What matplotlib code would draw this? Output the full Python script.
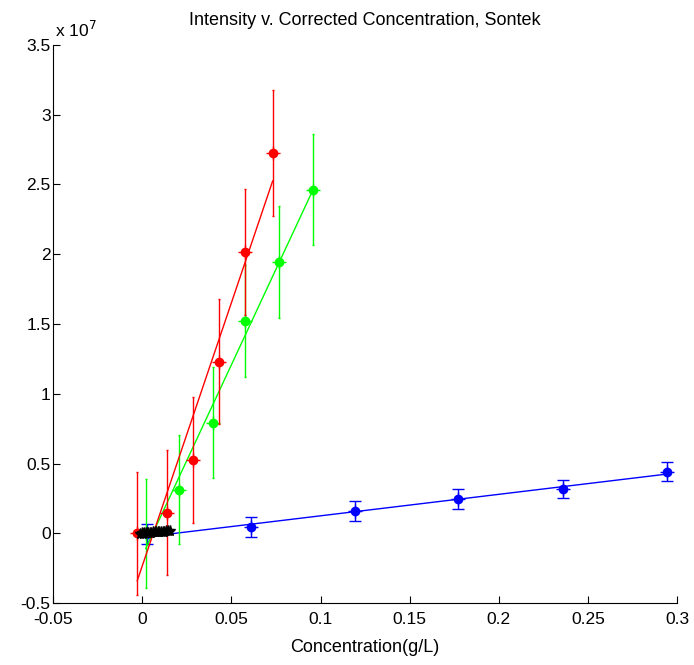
import numpy as np
import matplotlib
matplotlib.use('Agg')
import matplotlib.pyplot as plt

plt.rcParams['font.family'] = ['Liberation Sans', 'DejaVu Sans']
plt.rcParams['axes.unicode_minus'] = False

# intensity values in units of 1e7
red_x = [-0.0029, 0.0137, 0.0282, 0.0432, 0.0577, 0.0731]
red_y = [0.0, 0.150, 0.527, 1.231, 2.016, 2.723]
red_err = [0.44, 0.45, 0.45, 0.45, 0.45, 0.45]

green_x = [0.0019, 0.0207, 0.0394, 0.0577, 0.0768, 0.0956]
green_y = [0.0, 0.314, 0.794, 1.522, 1.945, 2.463]
green_err = [0.39, 0.39, 0.40, 0.40, 0.40, 0.40]

blue_x = [0.0024, 0.0608, 0.1193, 0.1773, 0.2359, 0.2946]
blue_y = [-0.005, 0.044, 0.161, 0.245, 0.317, 0.443]
blue_err = [0.07, 0.072, 0.07, 0.07, 0.065, 0.07]

black_x = [-0.0012, -0.0004, 0.0003, 0.0011, 0.0019, 0.0026, 0.0034, 0.0043, 0.0051, 0.0060,
           0.0068, 0.0077, 0.0086, 0.0095, 0.0104, 0.0114, 0.0124, 0.0134, 0.0145, 0.0156]
black_y = [-0.004, 0.000, -0.002, 0.003, 0.001, 0.004, 0.002, 0.006, 0.005, 0.008,
           0.007, 0.010, 0.009, 0.012, 0.011, 0.014, 0.013, 0.016, 0.015, 0.018]
black_err = [0.025] * len(black_x)

series = [
    (blue_x, blue_y, blue_err, '#0000ff', 4),
    (green_x, green_y, green_err, '#00ff00', 1),
    (red_x, red_y, red_err, '#ff0000', 1),
]

fig = plt.figure(figsize=(6.94, 6.65), dpi=100)
ax = fig.add_axes([0.0768, 0.0928, 0.8987, 0.8400])

for x, y, e, c, cap in series:
    ax.errorbar(x, y, yerr=e, fmt='none', ecolor=c, elinewidth=1.0, capsize=cap, capthick=1.0)
    p = np.polyfit(x, y, 1)
    xx = np.array([min(x), max(x)])
    ax.plot(xx, np.polyval(p, xx), color=c, linewidth=1.0)
    ax.plot(x, y, 'o', color=c, markersize=6)
    ax.plot(x, y, '+', color=c, markersize=10, markeredgewidth=1)

# black cluster near origin
ax.errorbar(black_x, black_y, yerr=black_err, fmt='none', ecolor='k', elinewidth=0.8, capsize=0)
p = np.polyfit(black_x, black_y, 1)
xx = np.array([min(black_x), max(black_x)])
ax.plot(xx, np.polyval(p, xx), color='k', linewidth=0.9)
ax.plot(black_x, black_y, '*', color='k', markersize=8)

ax.set_xlim(-0.05, 0.3)
ax.set_ylim(-0.5, 3.5)
ax.set_xticks(np.arange(-0.05, 0.31, 0.05))
ax.set_xticklabels(['-0.05', '0', '0.05', '0.1', '0.15', '0.2', '0.25', '0.3'])
ax.set_yticks(np.arange(-0.5, 3.51, 0.5))
ax.set_yticklabels(['-0.5', '0', '0.5', '1', '1.5', '2', '2.5', '3', '3.5'])
ax.spines['top'].set_visible(False)
ax.spines['right'].set_visible(False)
ax.tick_params(direction='in', length=5, width=0.8, labelsize=12.5)
ax.tick_params(axis='x', pad=6)
ax.tick_params(axis='y', pad=2)

ax.set_title('Intensity v. Corrected Concentration, Sontek', fontsize=13, pad=14)
ax.set_xlabel('Concentration(g/L)', fontsize=13, labelpad=9)
ax.text(0.003, 1.008, r'x 10$^{7}$', transform=ax.transAxes, fontsize=12.5, va='bottom')

fig.savefig('out.png', dpi=100)
